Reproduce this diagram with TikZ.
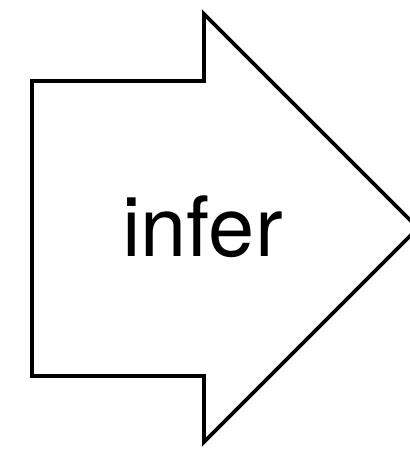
\documentclass[tikz,border=0pt]{standalone}
\usepackage{fontspec}
\setmainfont{TeX Gyre Heros}
\begin{document}
\begin{tikzpicture}[x=1pt,y=-1pt,
  arrowshape/.style={draw=black,line width=3.8pt,line join=miter,fill=white},
  labeltext/.style={font=\fontsize{83}{90}\selectfont,inner sep=0pt,anchor=base}]
\useasboundingbox (0,0) rectangle (410,451);
\clip (0,0) rectangle (410,451);
\draw[arrowshape] (32,81) -- (204,81) -- (204,14) -- (418,228) -- (204,442) -- (204,376) -- (32,376) -- cycle;
\node[labeltext] (lbl) at (202.5,256) {infer};
\end{tikzpicture}
\end{document}
